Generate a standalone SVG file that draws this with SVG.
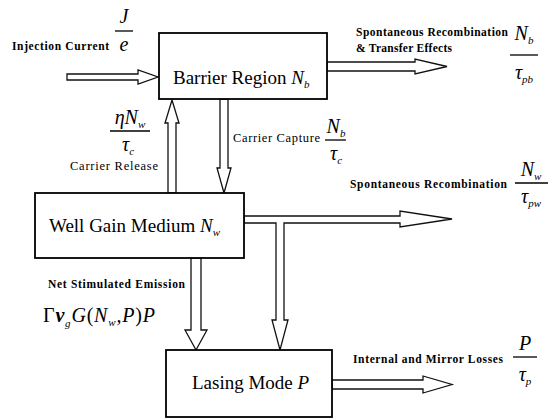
<svg xmlns="http://www.w3.org/2000/svg" width="549" height="418" viewBox="0 0 549 418">
<style>
.box{fill:#fff;stroke:#000;stroke-width:1.8}
.arr{fill:#fff;stroke:#111;stroke-width:1.3;stroke-linejoin:miter}
.bt{font-family:"Liberation Serif","Times New Roman","DejaVu Serif",serif;font-size:19px;fill:#000}
.lb{font-family:"Liberation Serif","Times New Roman","DejaVu Serif",serif;font-size:11.5px;font-weight:bold;fill:#000}
.lr{font-family:"Liberation Serif","Times New Roman","DejaVu Serif",serif;font-size:12.5px;fill:#000}
.m{font-family:"Liberation Serif","Times New Roman","DejaVu Serif",serif;font-size:20px;font-style:italic;fill:#000}
.s{font-size:11px;font-style:italic}
.bar{stroke:#000;stroke-width:1.3}
</style>
<g id="connectors">
<polygon class="arr" points="67,74 138,74 138,70 158,77 138,84 138,80 67,80"/>
<polygon class="arr" points="327,62 415,62 415,59 447,66.5 415,74 415,71 327,71"/>
<polygon class="arr" points="168,193 168,123 165,123 172,100 179,123 176,123 176,193"/>
<polygon class="arr" points="220,99 228,99 228,168 231,168 224,193 217,168 220,168"/>
<polygon class="arr" points="244,216 400,216 400,211 452,219 400,227 400,223 284,223 284,320 288,320 280,350 272,320 276,320 276,223 244,223"/>
<polygon class="arr" points="191,258 201,258 201,330 207,330 196,350 185,330 191,330"/>
<polygon class="arr" points="332,380 423,380 423,376 452,384.5 423,393 423,389 332,389"/>
</g>
<g id="barrier">
<rect class="box" x="159" y="33" width="168" height="66"/>
<text class="bt" x="173" y="84">Barrier Region <tspan font-style="italic">N</tspan><tspan class="s" dy="4">b</tspan></text>
</g>
<g id="well">
<rect class="box" x="35" y="193" width="209" height="65"/>
<text class="bt" x="49" y="232">Well Gain Medium <tspan font-style="italic">N</tspan><tspan class="s" dy="4">w</tspan></text>
</g>
<g id="lasing">
<rect class="box" x="166" y="350" width="166" height="67"/>
<text class="bt" x="192" y="389">Lasing Mode <tspan font-style="italic">P</tspan></text>
</g>
<g id="labels">
<text class="lb" x="12" y="50" textLength="97" lengthAdjust="spacing">Injection Current</text>
<text class="m" x="124" y="23" text-anchor="middle">J</text>
<line class="bar" x1="115" y1="31" x2="133" y2="31"/>
<text class="m" x="124" y="51" text-anchor="middle">e</text>

<text class="lb" x="356" y="36" textLength="152" lengthAdjust="spacing">Spontaneous Recombination</text>
<text class="lb" x="356" y="52" textLength="96" lengthAdjust="spacing">&amp; Transfer Effects</text>
<text class="m" x="524" y="40" text-anchor="middle">N<tspan class="s" dy="4">b</tspan></text>
<line class="bar" x1="510" y1="55" x2="538" y2="55"/>
<text class="m" x="524" y="79" text-anchor="middle">τ<tspan class="s" dy="4">pb</tspan></text>

<text class="m" x="130" y="124" text-anchor="middle">ηN<tspan class="s" dy="4">w</tspan></text>
<line class="bar" x1="110" y1="131" x2="150" y2="131"/>
<text class="m" x="128" y="151" text-anchor="middle">τ<tspan class="s" dy="4">c</tspan></text>
<text class="lr" x="70" y="170" textLength="88" lengthAdjust="spacing">Carrier Release</text>

<text class="lr" x="233" y="142" textLength="87" lengthAdjust="spacing">Carrier Capture</text>
<text class="m" x="336" y="133" text-anchor="middle">N<tspan class="s" dy="4">b</tspan></text>
<line class="bar" x1="325" y1="140" x2="346" y2="140"/>
<text class="m" x="336" y="160" text-anchor="middle">τ<tspan class="s" dy="4">c</tspan></text>

<text class="lb" x="350" y="188" textLength="157" lengthAdjust="spacing">Spontaneous Recombination</text>
<text class="m" x="531" y="176" text-anchor="middle">N<tspan class="s" dy="4">w</tspan></text>
<line class="bar" x1="515" y1="183" x2="548" y2="183"/>
<text class="m" x="531" y="203" text-anchor="middle">τ<tspan class="s" dy="4">pw</tspan></text>

<text class="lb" x="48" y="288" textLength="137" lengthAdjust="spacing">Net Stimulated Emission</text>
<text class="m" x="43" y="322" font-size="22" letter-spacing="0.8"><tspan font-style="normal">Γ</tspan><tspan font-weight="bold">v</tspan><tspan class="s" dy="5">g</tspan><tspan dy="-5">G</tspan><tspan font-style="normal">(</tspan>N<tspan class="s" dy="4">w</tspan><tspan dy="-4">,</tspan>P<tspan font-style="normal">)</tspan>P</text>

<text class="lb" x="353" y="363" textLength="150" lengthAdjust="spacing">Internal and Mirror Losses</text>
<text class="m" x="525" y="350" text-anchor="middle">P</text>
<line class="bar" x1="513" y1="357" x2="537" y2="357"/>
<text class="m" x="525" y="381" text-anchor="middle">τ<tspan class="s" dy="4">p</tspan></text>
</g>
</svg>
